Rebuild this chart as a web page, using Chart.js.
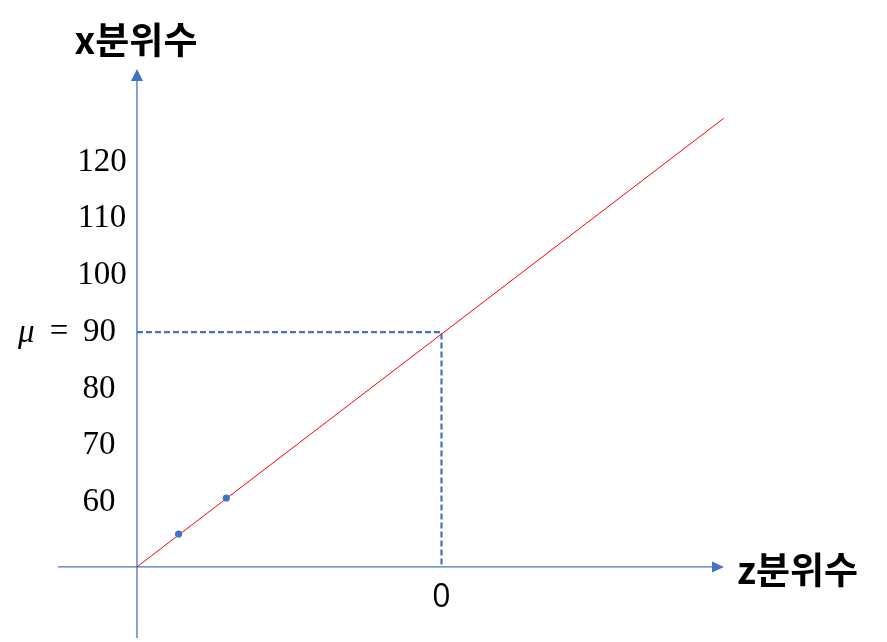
<!DOCTYPE html>
<html>
<head>
<meta charset="utf-8">
<script src="https://cdn.jsdelivr.net/npm/chart.js@4"></script>
<style>
  html, body { margin: 0; padding: 0; background: #fff; }
  #wrap { width: 887px; height: 642px; position: relative; }
</style>
</head>
<body>
<div id="wrap"><canvas id="qqChart"></canvas></div>
<script>
// data
const lineZ = [-3, 2.78];
const lineX = [48.6, 127.7];
const pointZ = [-2.59, -2.12];
const pointX = [54.4, 60.75];
const yTicks = [60, 70, 80, 90, 100, 110, 120];
const yTickLabels = ['60', '70', '80', '90', '100', '110', '120'];
const xTicks = [0];
const xTickLabels = ['0'];
const mu = 90;
const originZ = -3;
const originX = 48.6;

const blue = '#4472C4';
const serif = '"Liberation Serif", "DejaVu Serif", serif';

const axesPlugin = {
    id: 'axes',
    beforeDatasetsDraw(chart) {
        const { ctx, scales: { x, y } } = chart;
        const ox = x.getPixelForValue(originZ);
        const oy = y.getPixelForValue(originX);
        const left = x.getPixelForValue(x.min);
        const right = x.getPixelForValue(x.max);
        const top = y.getPixelForValue(y.max);
        const bottom = y.getPixelForValue(y.min);
        ctx.save();
        ctx.strokeStyle = blue;
        ctx.fillStyle = blue;
        ctx.lineWidth = 1.3;
        // x axis
        ctx.beginPath();
        ctx.moveTo(left, oy);
        ctx.lineTo(right - 11, oy);
        ctx.stroke();
        ctx.beginPath();
        ctx.moveTo(right, oy);
        ctx.lineTo(right - 12, oy - 5.5);
        ctx.lineTo(right - 12, oy + 5.5);
        ctx.closePath();
        ctx.fill();
        // y axis
        ctx.beginPath();
        ctx.moveTo(ox, bottom);
        ctx.lineTo(ox, top + 11);
        ctx.stroke();
        ctx.beginPath();
        ctx.moveTo(ox, top);
        ctx.lineTo(ox - 6, top + 12);
        ctx.lineTo(ox + 6, top + 12);
        ctx.closePath();
        ctx.fill();
        // dashed guides to (0, mu)
        const mx = x.getPixelForValue(0);
        const my = y.getPixelForValue(mu);
        ctx.lineWidth = 2.2;
        ctx.setLineDash([6, 3]);
        ctx.beginPath();
        ctx.moveTo(ox, my);
        ctx.lineTo(mx, my);
        ctx.lineTo(mx, oy);
        ctx.stroke();
        ctx.restore();
    },
    afterDraw(chart) {
        const { ctx, scales: { x, y } } = chart;
        const ox = x.getPixelForValue(originZ);
        const oy = y.getPixelForValue(originX);
        ctx.save();
        ctx.fillStyle = '#000';
        ctx.textBaseline = 'middle';
        // y tick labels
        ctx.font = '33px ' + serif;
        yTicks.forEach((v, i) => {
            const py = y.getPixelForValue(v);
            if (v === mu) {
                ctx.textAlign = 'right';
                ctx.fillText(yTickLabels[i], 116, py);
                ctx.textAlign = 'center';
                ctx.fillText('=', 59, py);
                ctx.font = 'italic 33px ' + serif;
                ctx.textAlign = 'left';
                ctx.fillText('\u03BC', 18, py + 1);
                ctx.font = '33px ' + serif;
            } else {
                ctx.textAlign = 'center';
                ctx.fillText(yTickLabels[i], v >= 100 ? 102 : 99, py);
            }
        });
        // x tick labels
        ctx.font = '32px "Open Sans", "Noto Sans", sans-serif';
        ctx.textAlign = 'center';
        xTicks.forEach((v, i) => {
            ctx.fillText(xTickLabels[i], x.getPixelForValue(v), oy + 31);
        });
        // axis titles
        ctx.font = 'bold 37px "Noto Sans CJK KR", sans-serif';
        ctx.textAlign = 'center';
        ctx.fillText('x분위수', ox - 1, 40);
        ctx.textAlign = 'left';
        ctx.fillText('z분위수', 737, oy + 3);
        ctx.restore();
    }
};

const ctx = document.getElementById('qqChart').getContext('2d');
new Chart(ctx, {
    type: 'scatter',
    data: {
        datasets: [{
            label: 'points',
            data: pointZ.map((z, i) => ({ x: z, y: pointX[i] })),
            pointBackgroundColor: blue,
            pointBorderColor: blue,
            pointRadius: 3.6,
            pointBorderWidth: 0,
            clip: false
        }, {
            label: 'line',
            data: lineZ.map((z, i) => ({ x: z, y: lineX[i] })),
            showLine: true,
            borderColor: '#FF0000',
            borderWidth: 1,
            pointRadius: 0,
            clip: false
        }]
    },
    options: {
        responsive: true,
        maintainAspectRatio: false,
        devicePixelRatio: 1,
        animation: false,
        layout: {
            padding: { left: 58, right: 163, top: 69, bottom: 0 }
        },
        plugins: {
            legend: { display: false },
            tooltip: { enabled: false }
        },
        scales: {
            x: { type: 'linear', display: false, min: -3.778, max: 2.783 },
            y: { type: 'linear', display: false, min: 36.06, max: 136.4 }
        }
    },
    plugins: [axesPlugin]
});
</script>
</body>
</html>
